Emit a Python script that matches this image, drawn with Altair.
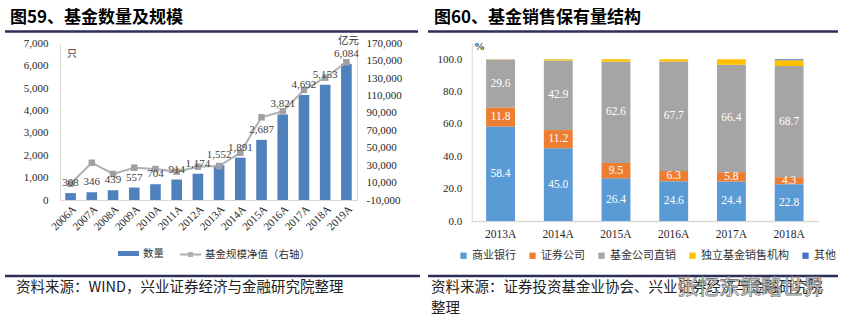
import altair as alt
import pandas as pd

# ---------------- left panel data ----------------
years_left = ["2006A", "2007A", "2008A", "2009A", "2010A", "2011A", "2012A",
              "2013A", "2014A", "2015A", "2016A", "2017A", "2018A", "2019A"]
fund_count = [308, 346, 439, 557, 704, 914, 1174, 1552, 1891, 2687, 3821, 4692, 5153, 6084]
fund_nav = [8600, 32800, 19900, 27100, 25600, 22500, 28300, 29000, 44300,
            85000, 91900, 116400, 130500, 148200]
count_ticks = [0, 1000, 2000, 3000, 4000, 5000, 6000, 7000]
nav_ticks = [-10000, 10000, 30000, 50000, 70000, 90000, 110000, 130000, 150000, 170000]
series_left = ["数量", "基金规模净值（右轴）"]

# ---------------- right panel data ----------------
years_right = ["2013A", "2014A", "2015A", "2016A", "2017A", "2018A"]
channels = ["商业银行", "证券公司", "基金公司直销", "独立基金销售机构", "其他"]
bank = [58.4, 45.0, 26.4, 24.6, 24.4, 22.8]
securities = [11.8, 11.2, 9.5, 6.3, 5.8, 4.3]
direct = [29.6, 42.9, 62.6, 67.7, 66.4, 68.7]
independent = [0.2, 0.8, 1.5, 1.4, 3.4, 3.6]
other = [0.0, 0.1, 0.0, 0.0, 0.0, 0.6]
pct_ticks = [0, 20, 40, 60, 80, 100]
channel_colors = ["#5B9BD5", "#ED7D31", "#A5A5A5", "#FFC000", "#4472C4"]

# ---------------- texts ----------------
title_left = "图59、基金数量及规模"
title_right = "图60、基金销售保有量结构"
unit_count = "只"
unit_nav = "亿元"
unit_pct = "%"
source_left = "资料来源：WIND，兴业证券经济与金融研究院整理"
source_right_1 = "资料来源：证券投资基金业协会、兴业证券经济与金融研究院"
source_right_2 = "整理"
watermark = "张忆东策略世界"

SERIF = "Liberation Serif"
CJK = "Noto Sans CJK SC"

left_df = pd.DataFrame({"year": years_left, "count": fund_count, "nav": fund_nav,
                        "s_bar": series_left[0], "s_line": series_left[1]})
rows = []
series_right = [bank, securities, direct, independent, other]
for i, yr in enumerate(years_right):
    for k, name in enumerate(channels):
        rows.append({"year": yr, "cat": name, "idx": k, "value": series_right[k][i]})
right_df = pd.DataFrame(rows)
one = pd.DataFrame({"a": [0]})

# ---------------- scales ----------------
xl_scale = alt.Scale(type="band", domain=years_left, range=[60, 357], paddingInner=0.5, paddingOuter=0.25)
yl_scale = alt.Scale(domain=[0, 7000], range=[200, 43.3], nice=False, zero=False)
yn_scale = alt.Scale(domain=[-10000, 170000], range=[200, 43.3], nice=False, zero=False)
xr_scale = alt.Scale(type="band", domain=years_right, range=[471.7, 818], paddingInner=0.5, paddingOuter=0.25)
yr_scale = alt.Scale(domain=[0, 110], range=[221, 43.1], nice=False, zero=False)

axis_common = dict(title=None, grid=False, ticks=False, domainColor="#D9D9D9", domainWidth=1,
                   labelFont=SERIF, labelFontSize=11, labelColor="#262626")
minus_fix = "replace(datum.label, '\u2212', '-')"
ax_lx = alt.Axis(orient="bottom", offset=-126, labelAngle=-45, labelPadding=3, **axis_common)
ax_ly = alt.Axis(orient="left", offset=-60, values=count_ticks, format=",d", labelPadding=12, **axis_common)
ax_nav = alt.Axis(orient="right", offset=-492, values=nav_ticks, format=",d", labelPadding=9,
                  labelExpr=minus_fix, **axis_common)
ax_rx = alt.Axis(orient="bottom", offset=-105, labelAngle=0, labelPadding=7,
                 **{**axis_common, "labelFontSize": 11.5, "domainWidth": 1.5})
ax_ry = alt.Axis(orient="left", offset=-471.7, values=pct_ticks, format=".1f", labelPadding=10, **axis_common)

legend_common = dict(orient="none", title=None, labelFont=CJK, labelColor="#333333", padding=0)

# ---------------- left panel layers ----------------
bars_left = alt.Chart(left_df).mark_bar().encode(
    x=alt.X("year:N", scale=xl_scale, axis=ax_lx),
    y=alt.Y("count:Q", scale=yl_scale, axis=ax_ly),
    color=alt.Color("s_bar:N", scale=alt.Scale(range=["#4F81BD"]),
                    legend=alt.Legend(legendX=118, legendY=243, labelFontSize=10.5, labelOffset=4,
                                      symbolType="M-1,-0.24L1,-0.24L1,0.24L-1,0.24Z", symbolSize=441,
                                      symbolStrokeWidth=0, **legend_common)),
)
labels_left = alt.Chart(left_df).mark_text(dy=-10, font=SERIF, fontSize=11, color="#404040").encode(
    x=alt.X("year:N", scale=xl_scale, axis=None),
    y=alt.Y("count:Q", scale=yl_scale, axis=None),
    text=alt.Text("count:Q", format=",d"),
)
line_left = alt.Chart(left_df).mark_line(strokeWidth=2).encode(
    x=alt.X("year:N", scale=xl_scale, axis=None),
    y=alt.Y("nav:Q", scale=yn_scale, axis=ax_nav),
    color=alt.Color("s_line:N", scale=alt.Scale(range=["#B0B0B0"]),
                    legend=alt.Legend(legendX=179, legendY=243, labelFontSize=10.5, labelOffset=3,
                                      symbolType="M-1,0L1,0M-0.14,-0.14L0.14,-0.14L0.14,0.14L-0.14,0.14Z",
                                      symbolSize=441, symbolStrokeWidth=2, **legend_common)),
)
points_left = alt.Chart(left_df).mark_square(size=42, color="#A0A0A0", opacity=1).encode(
    x=alt.X("year:N", scale=xl_scale, axis=None),
    y=alt.Y("nav:Q", scale=yn_scale, axis=None),
)

# ---------------- right panel layers ----------------
bars_right = alt.Chart(right_df).mark_bar().encode(
    x=alt.X("year:N", scale=xr_scale, axis=ax_rx),
    y=alt.Y("value:Q", stack="zero", scale=yr_scale, axis=ax_ry),
    color=alt.Color("cat:N", scale=alt.Scale(domain=channels, range=channel_colors),
                    legend=alt.Legend(legendX=458, legendY=250, direction="horizontal",
                                      symbolType="square", symbolSize=40, symbolStrokeWidth=0,
                                      labelFontSize=11, labelOffset=3, columnPadding=11,
                                      **legend_common)),
    order=alt.Order("idx:Q", sort="ascending"),
)
labels_right = alt.Chart(right_df).transform_stack(
    stack="value", groupby=["year"], as_=["v0", "v1"], sort=[alt.SortField("idx", order="ascending")]
).transform_calculate(mid="(datum.v0 + datum.v1) / 2").transform_filter("datum.idx < 3").mark_text(
    font=SERIF, fontSize=11.5, color="white"
).encode(
    x=alt.X("year:N", scale=xr_scale, axis=None),
    y=alt.Y("mid:Q", scale=yr_scale, axis=None),
    text=alt.Text("value:Q", format=".1f"),
)


# ---------------- annotations ----------------
def txt(s, x, y, **kw):
    base = dict(align="left", baseline="middle")
    base.update(kw)
    return alt.Chart(one).mark_text(text=s, **base).encode(x=alt.value(x), y=alt.value(y))


def hline(x1, x2, y, w, c):
    return alt.Chart(one).mark_rule(color=c, strokeWidth=w).encode(
        x=alt.value(x1), x2=alt.value(x2), y=alt.value(y))


navy = "#2D2D5A"
annots = [
    txt(title_left, 10, 18, font=CJK, fontSize=17, fontWeight="bold", color="#000000"),
    txt(title_right, 434, 18, font=CJK, fontSize=17, fontWeight="bold", color="#000000"),
    hline(5, 418, 31.5, 2.5, navy),
    hline(428, 838, 31.5, 2.5, navy),
    hline(5, 420, 276, 2.5, navy),
    hline(428, 838, 276, 2.5, navy),
    txt(unit_count, 67, 54, font=CJK, fontSize=10, color="#333333"),
    txt(unit_nav, 338, 41, font=CJK, fontSize=10.5, color="#333333"),
    txt(unit_pct, 474, 47, font=SERIF, fontSize=11, fontWeight="bold", color="#333333"),
    txt(source_left, 16, 288, font=CJK, fontSize=14.5, color="#222222"),
    txt(source_right_1, 431, 288, font=CJK, fontSize=14.5, color="#222222"),
    txt(source_right_2, 431, 309, font=CJK, fontSize=14.5, color="#222222"),
    txt(watermark, 677, 288, font=CJK, fontSize=21, color="#FFFFFF", stroke="#6E6E6E",
        strokeWidth=0.8, opacity=0.9),
]

chart = alt.layer(
    bars_left, line_left, points_left, labels_left,
    bars_right, labels_right,
    *annots,
).resolve_scale(
    x="independent", y="independent", color="independent"
).properties(
    width=849, height=326, padding=0, autosize=alt.AutoSizeParams(type="none"),
    background="white",
).configure_view(stroke=None)

chart.save("out.html", embed_options={"renderer": "svg", "actions": False})
